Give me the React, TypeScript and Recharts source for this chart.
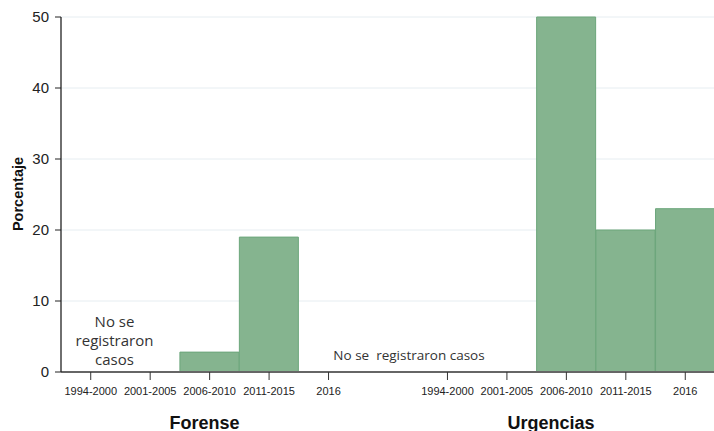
import { BarChart, Bar, XAxis, YAxis, CartesianGrid } from "recharts";

const periodos = ["1994-2000", "2001-2005", "2006-2010", "2011-2015", "2016"];
const forense = [null, null, 2.8, 19, null];
const urgencias = [null, null, 50, 20, 23];
const yTicks = [0, 10, 20, 30, 40, 50];

type Fila = { key: string; periodo: string; valor: number | null };

const data: Fila[] = [
  ...periodos.map((p, i) => ({ key: `f${i}`, periodo: p, valor: forense[i] })),
  { key: "hueco", periodo: "", valor: null },
  ...periodos.map((p, i) => ({ key: `u${i}`, periodo: p, valor: urgencias[i] })),
];

const etiquetas: Record<string, string> = {};
data.forEach((d) => (etiquetas[d.key] = d.periodo));

const AXIS_FONT = "'Liberation Sans', Arial, sans-serif";
const NOTE_FONT = "'Open Sans', 'Noto Sans', sans-serif";

// tick del eje X: linea + texto, nada para la columna vacia
const PeriodoTick = (props: any) => {
  const { x, y, payload } = props;
  const label = etiquetas[payload.value];
  if (!label) return null;
  return (
    <g>
      <line x1={x} x2={x} y1={y - 8} y2={y} stroke="#333" strokeWidth={1} />
      <text x={x} y={y + 14.5} textAnchor="middle" fontSize={11} fontFamily={AXIS_FONT} fill="#222">
        {label}
      </text>
    </g>
  );
};

const App = () => {
  return (
    <div style={{ position: "relative", width: 714, height: 431 }}>
      <style>{`body{margin:0}`}</style>
      <BarChart
        width={714}
        height={431}
        data={data}
        margin={{ top: 17, right: -1, bottom: 0, left: 0 }}
        barCategoryGap={0}
        barGap={0}
      >
        <CartesianGrid vertical={false} stroke="#e6edf1" />
        <XAxis
          dataKey="key"
          height={59}
          tick={<PeriodoTick />}
          tickLine={false}
          tickSize={8}
          tickMargin={0}
          interval={0}
          axisLine={{ stroke: "#666", strokeWidth: 2 }}
        />
        <YAxis
          width={61}
          domain={[0, 50]}
          ticks={yTicks}
          tickSize={6}
          tickMargin={6}
          tick={{ fontSize: 15, fontFamily: AXIS_FONT, fill: "#222" }}
          tickLine={{ stroke: "#222" }}
          axisLine={{ stroke: "#222", strokeWidth: 1.3 }}
        />
        <Bar dataKey="valor" fill="#85b48f" stroke="#6ca67b" strokeWidth={1} isAnimationActive={false} />
      </BarChart>

      <svg
        width={714}
        height={431}
        style={{ position: "absolute", left: 0, top: 0, pointerEvents: "none" }}
      >
        <text
          x={0}
          y={0}
          transform="translate(22.5, 194) rotate(-90)"
          textAnchor="middle"
          fontSize={14.5}
          fontWeight="bold"
          fontFamily={AXIS_FONT}
          fill="#111"
        >
          Porcentaje
        </text>
        <text x={204.5} y={428.5} textAnchor="middle" fontSize={18} fontWeight="bold" fontFamily={AXIS_FONT} fill="#111">
          Forense
        </text>
        <text x={551} y={428.5} textAnchor="middle" fontSize={18} fontWeight="bold" fontFamily={AXIS_FONT} fill="#111">
          Urgencias
        </text>
        <text textAnchor="middle" fontSize={15} fontFamily={NOTE_FONT} fill="#333">
          <tspan x={114.5} y={327}>No se</tspan>
          <tspan x={114.5} y={346}>registraron</tspan>
          <tspan x={114.5} y={365}>casos</tspan>
        </text>
        <text
          x={409}
          y={360}
          textAnchor="middle"
          fontSize={13.5}
          fontFamily={NOTE_FONT}
          fill="#333"
          style={{ whiteSpace: "pre" }}
        >
          No se  registraron casos
        </text>
      </svg>
    </div>
  );
};

export default App;
